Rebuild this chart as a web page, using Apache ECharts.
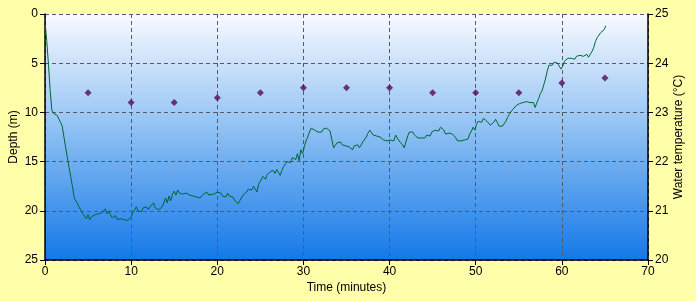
<!DOCTYPE html>
<html><head><meta charset="utf-8">
<script src="https://cdn.jsdelivr.net/npm/echarts@6/dist/echarts.min.js"></script>
<style>html,body{margin:0;padding:0;background:#FFFFAA}#c{width:696px;height:301px}</style>
</head><body><div id="c"></div>
<script>
const depthTime = [0.05,0.2,0.4,0.6,0.8,1.0,1.2,1.4,1.6,1.8,2.0,2.2,2.4,2.6,2.8,3.0,3.2,3.4,3.6,3.8,4.0,4.2,4.4,4.6,4.8,5.0,5.2,5.4,5.6,5.8,6.0,6.2,6.4,6.6,6.8,7.0,7.2,7.4,7.6,7.8,8.0,8.2,8.4,8.6,8.8,9.0,9.2,9.4,9.6,9.8,10.0,10.2,10.4,10.6,10.8,11.0,11.2,11.4,11.6,11.8,12.0,12.2,12.4,12.6,12.8,13.0,13.2,13.4,13.6,13.8,14.0,14.2,14.4,14.6,14.8,15.0,15.2,15.4,15.6,15.8,16.0,16.4,16.8,17.2,17.4,17.6,18.0,18.4,18.8,19.0,19.2,19.6,20.0,20.4,20.6,20.8,21.0,21.2,21.4,21.6,21.8,22.0,22.2,22.4,22.6,22.8,23.0,23.2,23.4,23.6,23.8,24.0,24.2,24.4,24.6,24.8,25.0,25.3,25.6,25.8,26.0,26.2,26.5,26.7,26.9,27.1,27.3,27.5,27.7,27.9,28.1,28.3,28.5,28.7,28.9,29.1,29.3,29.5,29.7,29.9,30.1,30.3,30.5,30.7,30.9,31.1,31.3,31.5,31.7,31.9,32.1,32.3,32.5,32.7,32.9,33.1,33.3,33.5,33.7,33.9,34.1,34.3,34.5,34.7,34.9,35.1,35.3,35.5,35.7,35.9,36.1,36.3,36.5,36.7,36.9,37.1,37.3,37.5,37.7,37.9,38.1,38.3,38.5,38.7,38.9,39.1,39.3,39.5,39.7,39.9,40.1,40.3,40.5,40.7,40.9,41.1,41.3,41.5,41.7,41.9,42.1,42.3,42.5,42.7,42.9,43.1,43.3,43.5,43.7,43.9,44.1,44.3,44.5,44.7,44.9,45.1,45.3,45.5,45.7,45.9,46.1,46.3,46.5,46.7,46.9,47.1,47.3,47.5,47.7,47.9,48.1,48.3,48.5,48.7,48.9,49.1,49.3,49.5,49.7,49.9,50.1,50.3,50.5,50.7,50.9,51.1,51.3,51.5,51.7,51.9,52.1,52.3,52.5,52.7,52.9,53.1,53.3,53.5,53.7,53.9,54.1,54.3,54.5,54.7,54.9,55.1,55.3,55.5,55.7,55.9,56.1,56.3,56.5,56.7,56.9,57.1,57.3,57.5,57.7,57.9,58.1,58.3,58.5,58.7,58.9,59.1,59.3,59.5,59.7,59.9,60.1,60.3,60.5,60.7,60.9,61.1,61.3,61.5,61.7,61.9,62.1,62.3,62.5,62.7,62.9,63.1,63.3,63.5,63.7,63.9,64.1,64.3,64.5,64.7,64.9,65.1];
const depthValues = [1.2,2.7,5.1,7.8,9.8,10.1,10.0,10.3,10.5,11.0,11.4,12.5,13.6,14.6,15.6,16.6,17.6,18.7,19.0,19.3,19.7,19.9,20.3,20.5,20.8,20.4,20.9,20.6,20.8,20.4,20.6,20.3,20.5,20.2,20.4,19.8,20.3,20.0,20.4,20.7,20.9,20.5,20.9,20.7,20.8,20.6,20.9,20.7,21.0,20.8,20.6,20.2,20.0,19.6,20.0,19.8,20.1,19.7,19.9,19.6,19.9,19.6,19.5,19.2,19.7,19.6,19.9,20.0,19.6,19.2,18.7,19.2,18.5,19.0,18.3,18.0,18.4,17.9,18.2,18.1,18.3,18.2,18.4,18.5,18.3,18.6,18.7,18.3,18.1,18.4,18.2,18.3,18.1,18.2,18.5,18.3,18.6,18.2,18.5,18.7,18.6,18.9,19.1,19.3,19.0,18.7,18.4,18.5,18.1,17.8,17.6,17.9,17.5,17.4,18.1,17.3,17.0,16.5,16.8,16.3,16.5,16.0,15.9,16.2,15.8,16.1,16.4,15.9,15.5,15.3,15.0,14.8,15.1,14.6,14.4,14.8,14.2,14.9,13.8,14.2,13.5,12.9,12.5,12.0,11.6,11.4,11.8,11.6,12.0,11.8,12.0,11.7,11.9,11.6,11.5,11.9,12.8,13.6,13.4,13.1,13.3,13.0,13.3,13.1,13.4,13.2,13.5,13.3,13.8,13.4,13.6,13.3,13.6,13.3,13.0,12.9,12.5,12.1,11.8,12.0,12.3,12.1,12.4,12.3,12.5,12.6,12.8,12.6,12.9,13.0,12.8,12.6,12.9,12.3,12.6,12.9,13.1,13.3,13.6,13.0,12.4,12.0,12.2,12.0,12.3,12.2,12.6,12.8,12.6,12.4,12.6,12.3,12.2,12.4,12.0,12.1,11.8,11.6,11.9,11.5,11.3,11.8,12.2,12.3,12.1,12.3,12.2,12.4,12.6,12.9,13.1,12.9,13.1,12.8,13.0,12.7,12.2,11.9,11.5,11.8,11.2,10.9,10.8,11.0,10.6,10.5,10.9,11.1,11.3,11.5,11.0,10.7,11.0,11.4,11.2,11.4,11.2,10.9,10.5,10.2,10.0,9.7,9.5,9.3,9.2,9.1,9.2,9.0,9.2,8.9,9.1,9.0,9.2,9.0,9.5,9.0,8.6,8.1,7.8,7.2,6.6,5.8,5.2,5.0,5.2,4.9,4.7,5.0,5.3,5.6,5.3,4.8,4.6,4.5,4.3,4.5,4.4,4.6,4.3,4.5,4.2,4.4,4.3,4.5,4.1,4.4,4.2,3.8,3.4,2.8,2.4,2.2,1.9,2.0,1.6,1.2];
const tempTime = [5,10,15,20,25,30,35,40,45,50,55,60,65];
const tempValues = [23.4,23.2,23.2,23.3,23.4,23.5,23.5,23.5,23.4,23.4,23.4,23.6,23.7];

const chart = echarts.init(document.getElementById('c'));
const font = 'Liberation Sans, Arial, sans-serif';
const dashed = {show:true, lineStyle:{color:'#555a66', type:[4,3], width:1}};
chart.setOption({
  backgroundColor:'#FFFFAA',
  animation:false,
  grid:{left:45, right:48, top:14, bottom:41, show:true, borderWidth:0,
    containLabel:false, outerBoundsMode:'none',
    backgroundColor:{type:'linear', x:0, y:0, x2:0, y2:1, colorStops:[{offset:0,color:'#F8FAFF'},{offset:0.45,color:'#93C3F4'},{offset:1,color:'#1478E8'}]}},
  xAxis:{type:'value', min:0, max:70, interval:10,
    name:'Time (minutes)', nameLocation:'middle', nameGap:22, nameMoveOverlap:false,
    nameTextStyle:{color:'#000', fontSize:12, fontFamily:font},
    axisLine:{show:true, onZero:false, lineStyle:{color:'#000', width:1.5}},
    axisTick:{show:true, length:5, lineStyle:{color:'#000'}},
    axisLabel:{color:'#000', fontSize:12, fontFamily:font, margin:6},
    splitLine:dashed},
  yAxis:[
    {type:'value', min:0, max:25, interval:5, inverse:true,
     name:'Depth (m)', nameLocation:'middle', nameGap:25, nameRotate:90, nameMoveOverlap:false,
     nameTextStyle:{color:'#000', fontSize:12, fontFamily:font},
     axisLine:{show:true, onZero:false, lineStyle:{color:'#000', width:1.5}},
     axisTick:{show:true, length:5, lineStyle:{color:'#000'}},
     axisLabel:{color:'#000', fontSize:12, fontFamily:font, margin:7},
     splitLine:dashed},
    {type:'value', min:20, max:25, interval:1, position:'right',
     name:'Water temperature (°C)', nameLocation:'middle', nameGap:25, nameRotate:90, nameMoveOverlap:false,
     nameTextStyle:{color:'#000', fontSize:12, fontFamily:font},
     axisLine:{show:true, onZero:false, lineStyle:{color:'#000', width:1.5}},
     axisTick:{show:true, length:5, lineStyle:{color:'#000'}},
     axisLabel:{color:'#000', fontSize:12, fontFamily:font, margin:7},
     splitLine:{show:false}}
  ],
  series:[
    {type:'line', yAxisIndex:0, showSymbol:false, symbol:'none',
     lineStyle:{color:'#006633', width:1}, data:depthTime.map((t,i)=>[t, depthValues[i]])},
    {type:'scatter', yAxisIndex:1, symbol:'diamond', symbolSize:7,
     itemStyle:{color:'#560A56'}, data:tempTime.map((t,i)=>[t, tempValues[i]])}
  ]
});
</script></body></html>
